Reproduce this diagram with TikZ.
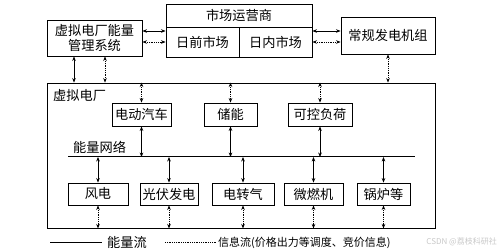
\documentclass[tikz,border=0pt]{standalone}
\usepackage{fontspec}
\setmainfont{Noto Sans CJK SC}
\usetikzlibrary{arrows.meta,calc}
\newcommand\boxfont{\fontsize{13.2}{14.5}\selectfont}
\newcommand\legfont{\fontsize{11}{13}\selectfont}
\begin{document}
\begin{tikzpicture}[x=1pt,y=-1pt,
  bx/.style={draw, line width=0.9pt, inner sep=0pt, font=\boxfont},
  tip/.tip={Stealth[length=4.5pt,width=3.6pt]},
  both/.style={tip-tip, line width=0.8pt},
  info/.style={both, densely dotted},
  lbl/.style={inner sep=0pt, font=\boxfont}]
\useasboundingbox (0,0) rectangle (499,251);
% top row
\node[bx, minimum width=95pt, minimum height=36pt, align=center] (ems) at (94.5,38) {虚拟电厂能量\\管理系统};
\node[bx, minimum width=146pt, minimum height=23pt] (op) at (239,15.5) {市场运营商};
\node[bx, minimum width=73pt, minimum height=30pt] (da) at (202.5,42) {日前市场};
\node[bx, minimum width=73pt, minimum height=30pt] (id) at (275.5,42) {日内市场};
\node[bx, minimum width=94pt, minimum height=37pt] (gen) at (388,35.5) {常规发电机组};
% VPP frame
\node[bx, minimum width=388pt, minimum height=145pt] (vpp) at (241,155.5) {};
\node[lbl, anchor=west] (vppl) at (53,95) {虚拟电厂};
% inner top row
\node[bx, minimum width=59pt, minimum height=23pt] (ev) at (141.5,114.5) {电动汽车};
\node[bx, minimum width=53pt, minimum height=23pt] (st) at (230.5,114.5) {储能};
\node[bx, minimum width=64pt, minimum height=23pt] (ld) at (320,114.5) {可控负荷};
% network
\coordinate (netL) at (68,157);
\coordinate (netR) at (415,157);
\draw[line width=1pt] (netL) -- (netR);
\node[lbl, anchor=west] (netlab) at (73,147.5) {能量网络};
% bottom row
\node[bx, minimum width=60pt, minimum height=22pt] (wind) at (98,194) {风电};
\node[bx, minimum width=58pt, minimum height=22pt] (pv) at (169,194) {光伏发电};
\node[bx, minimum width=62pt, minimum height=22pt] (p2g) at (243,194) {电转气};
\node[bx, minimum width=59pt, minimum height=22pt] (mt) at (313.5,194) {微燃机};
\node[bx, minimum width=53pt, minimum height=22pt] (boil) at (383.5,194) {锅炉等};
% EMS <-> market
\draw[both] ([yshift=7pt]ems.east) -- ([yshift=7pt]ems.east -| da.west);
\draw[info] ([yshift=-4pt]ems.east) -- ([yshift=-4pt]ems.east -| da.west);
% market <-> generator
\draw[both] ([yshift=4.5pt]gen.west -| id.east) -- ([yshift=4.5pt]gen.west);
\draw[info] ([yshift=-6.5pt]gen.west -| id.east) -- ([yshift=-6.5pt]gen.west);
% EMS <-> VPP
\draw[both] ([xshift=-20.5pt]ems.south) -- ([xshift=-20.5pt]ems.south |- vpp.north);
\draw[info] ([xshift=10.5pt]ems.south) -- ([xshift=10.5pt]ems.south |- vpp.north);
% generator <-> VPP
\draw[info] (gen.south) -- (gen.south |- vpp.north);
% inner top row
\foreach \n in {ev,st,ld}{
  \draw[info] (\n.north |- vpp.north) -- (\n.north);
  \draw[both] (\n.south) -- (\n.south |- netL);
}
% bottom row
\foreach \n in {wind,pv,p2g,mt,boil}{
  \draw[both] (\n.north) -- (\n.north |- netL);
  \draw[info] (\n.south) -- (\n.south |- vpp.south);
}
% legend
\coordinate (la) at (50,242);
\coordinate (lb) at (102,242);
\draw[line width=0.8pt] (la) -- (lb);
\node[lbl, anchor=west] (lt1) at (107,242.5) {能量流};
\coordinate (lc) at (165,242);
\coordinate (ld2) at (217,242);
\draw[densely dotted, line width=0.8pt] (lc) -- (ld2);
\node[lbl, anchor=west, font=\legfont] (lt2) at (218,242.5) {信息流(价格出力等调度、竞价信息)};
\node[anchor=east, inner sep=0pt, text=black!22, font=\fontsize{8}{9}\selectfont] (wm) at (497,242) {CSDN @荔枝科研社};
\end{tikzpicture}
\end{document}
